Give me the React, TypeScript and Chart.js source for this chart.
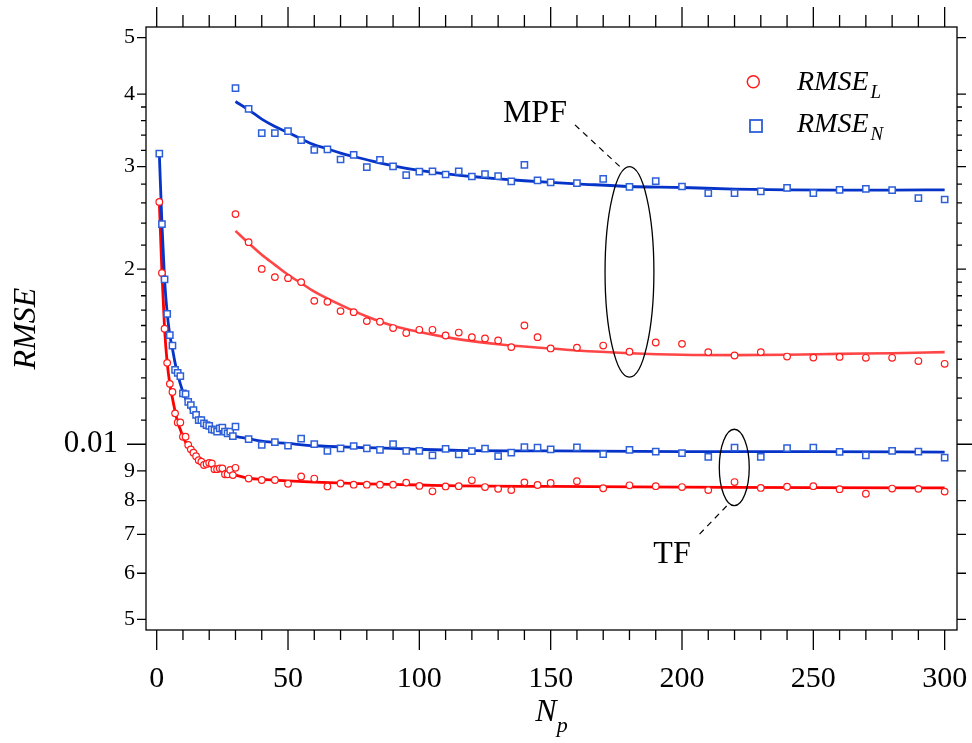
import { useEffect, useRef } from 'react';
import { Chart, registerables } from 'chart.js';
Chart.register(...registerables);

const FONT = '"Liberation Serif", "Times New Roman", serif';

// ---------- data ----------
const tfX = [1, 2, 3, 4, 5, 6, 7, 8, 9, 10, 11, 12, 13, 14, 15, 16, 17, 18, 19, 20, 21, 22, 23, 24, 25, 26, 27, 28, 29, 30,
  35, 40, 45, 50, 55, 60, 65, 70, 75, 80, 85, 90, 95, 100, 105, 110, 115, 120, 125, 130, 135, 140, 145, 150,
  160, 170, 180, 190, 200, 210, 220, 230, 240, 250, 260, 270, 280, 290, 300];

const tfRmseN = [0.0316, 0.0239, 0.0192, 0.01675, 0.0154, 0.01477, 0.01342, 0.01326, 0.0131, 0.01223, 0.0122, 0.01183, 0.01168, 0.01145, 0.01123, 0.011, 0.011, 0.01086, 0.01079, 0.01075, 0.01061, 0.01058, 0.01051, 0.01065, 0.01068, 0.01051, 0.01044, 0.01051, 0.01033, 0.01072,
  0.0102, 0.00997, 0.01008, 0.00994, 0.01022, 0.01, 0.00974, 0.00984, 0.00993, 0.00984, 0.00978, 0.01, 0.00974, 0.00974, 0.00957, 0.00982, 0.00961, 0.00973, 0.00983, 0.00954, 0.00967, 0.00989, 0.00987, 0.0098,
  0.00988, 0.00962, 0.00978, 0.00971, 0.00965, 0.00951, 0.00987, 0.00951, 0.00985, 0.00987, 0.0097, 0.00957, 0.00974, 0.00971, 0.00948];

const tfRmseL = [0.0261, 0.0197, 0.0158, 0.0138, 0.0127, 0.0123, 0.0113, 0.0109, 0.0109, 0.0103, 0.0103, 0.00997, 0.0098, 0.00967, 0.00954, 0.00939, 0.00933, 0.00921, 0.00925, 0.00929, 0.00927, 0.00906, 0.00906, 0.00909, 0.00909, 0.00888, 0.00888, 0.00903, 0.00885, 0.00911,
  0.00873, 0.00868, 0.00868, 0.00855, 0.0088, 0.00873, 0.00846, 0.00856, 0.00852, 0.00852, 0.00852, 0.00852, 0.00859, 0.00848, 0.0083, 0.00846, 0.00847, 0.00867, 0.00844, 0.00838, 0.00834, 0.0086, 0.00851, 0.00858,
  0.00864, 0.0084, 0.0085, 0.00847, 0.00844, 0.00834, 0.00861, 0.00841, 0.00845, 0.00847, 0.00837, 0.00822, 0.00839, 0.00838, 0.00829];

const mpfX = [30, 35, 40, 45, 50, 55, 60, 65, 70, 75, 80, 85, 90, 95, 100, 105, 110, 115, 120, 125, 130, 135, 140, 145, 150,
  160, 170, 180, 190, 200, 210, 220, 230, 240, 250, 260, 270, 280, 290, 300];

const mpfRmseN = [0.04095, 0.03773, 0.03427, 0.03427, 0.03454, 0.03334, 0.03208, 0.03212, 0.03087, 0.03145, 0.02996, 0.03084, 0.03003, 0.02902, 0.02941, 0.02944, 0.02909, 0.02944, 0.02886, 0.02914, 0.02891, 0.0283, 0.03023, 0.02841, 0.02819,
  0.02812, 0.0286, 0.02771, 0.02834, 0.02774, 0.02703, 0.02703, 0.0272, 0.0276, 0.02703, 0.02738, 0.02749, 0.02735, 0.0265, 0.02635];

const mpfRmseL = [0.02487, 0.02225, 0.02002, 0.01938, 0.0193, 0.019, 0.01764, 0.01757, 0.01694, 0.01687, 0.01628, 0.01624, 0.01584, 0.01553, 0.01573, 0.01573, 0.01538, 0.01556, 0.01528, 0.0152, 0.01508, 0.01469, 0.016, 0.01528, 0.01461,
  0.01466, 0.01478, 0.01442, 0.01496, 0.01488, 0.0144, 0.01421, 0.0144, 0.01415, 0.01409, 0.01413, 0.01408, 0.01408, 0.0139, 0.01375];

// fitted curves
const tfFitX = [1, 2, 3, 4, 5, 6, 7, 8, 9, 10, 12, 14, 16, 18, 20, 22, 25, 30, 35, 40, 50, 60, 80, 100, 115, 150, 200, 250, 300];
const tfFitN = [0.0316, 0.0239, 0.0192, 0.0168, 0.0154, 0.0146, 0.0138, 0.0132, 0.0127, 0.0123, 0.0117, 0.0113, 0.011, 0.01082, 0.01066, 0.01055, 0.01046, 0.01032, 0.01022, 0.01012, 0.01003, 0.00994, 0.00987, 0.0098, 0.00976, 0.00974, 0.00971, 0.00971, 0.00969];
const tfFitL = [0.0261, 0.0197, 0.0158, 0.0138, 0.0127, 0.012, 0.0114, 0.0109, 0.0106, 0.0103, 0.0099, 0.00965, 0.00945, 0.0093, 0.0092, 0.0091, 0.00898, 0.00885, 0.00874, 0.0087, 0.00865, 0.00861, 0.00855, 0.00851, 0.00848, 0.00846, 0.00844, 0.00842, 0.00841];

const mpfFitNX = [30, 35, 40, 45, 50, 55, 60, 65, 70, 75, 80, 90, 100, 110, 120, 130, 140, 150, 160, 180, 200, 220, 240, 260, 280, 300];
const mpfFitN = [0.03884, 0.03758, 0.03622, 0.03518, 0.03435, 0.0335, 0.03272, 0.0322, 0.03167, 0.03124, 0.03084, 0.03011, 0.02956, 0.02917, 0.02886, 0.0286, 0.02838, 0.02819, 0.02804, 0.02774, 0.02763, 0.02746, 0.02738, 0.02735, 0.02735, 0.02738];
const mpfFitLX = [30, 35, 40, 45, 50, 55, 60, 70, 80, 90, 100, 110, 120, 130, 140, 150, 160, 180, 200, 220, 240, 260, 280, 300];
const mpfFitL = [0.02327, 0.02217, 0.02117, 0.02034, 0.01955, 0.01892, 0.0183, 0.01736, 0.01658, 0.01598, 0.01559, 0.01528, 0.01504, 0.01486, 0.01472, 0.01461, 0.01449, 0.01434, 0.01425, 0.01423, 0.01425, 0.0143, 0.01434, 0.0144];

// ticks
const xTickLabels = [0, 50, 100, 150, 200, 250, 300];
const ySmallTicks = [0.005, 0.006, 0.007, 0.008, 0.009, 0.02, 0.03, 0.04, 0.05];
const yBigTicks = [0.01];
const yBigTickLabels = ['0.01'];
const yMinorTicks = [0.011, 0.012, 0.013, 0.014, 0.015, 0.016, 0.017, 0.018, 0.019, 0.022, 0.024, 0.026, 0.028, 0.032, 0.034, 0.036, 0.038];

const X_MIN = -4.07, X_MAX = 304.7;
const Y_MIN = 0.004793, Y_MAX = 0.05216;

const RED = '#ff1a1a';
const RED_LINE = '#ff0000';
const RED_LINE_MPF = '#ff4545';
const BLUE = '#2d5fd8';
const BLUE_LINE = '#0633c8';

const zip = (xs: number[], ys: number[]) => xs.map((x, i) => ({ x, y: ys[i] }));

const noPad = (s: any) => { s.paddingTop = 0; s.paddingBottom = 0; s.paddingLeft = 0; s.paddingRight = 0; };

const framePlugin = {
  id: 'frame',
  afterDraw(chart: any) {
    const { ctx, chartArea: ca, scales } = chart;
    const xs = scales.x, ys = scales.y;
    ctx.save();
    ctx.strokeStyle = '#000';
    ctx.lineWidth = 1.3;
    ctx.strokeRect(ca.left, ca.top, ca.right - ca.left, ca.bottom - ca.top);
    ctx.beginPath();
    for (let v = 0; v <= 300; v += 10) {
      const px = xs.getPixelForValue(v);
      const major = v % 50 === 0;
      ctx.moveTo(px, ca.bottom); ctx.lineTo(px, ca.bottom + (major ? 20 : 10));
      ctx.moveTo(px, ca.top); ctx.lineTo(px, ca.top - (major ? 20 : 12));
    }
    const yt = (v: number, len: number) => {
      const py = ys.getPixelForValue(v);
      ctx.moveTo(ca.left, py); ctx.lineTo(ca.left - len, py);
      ctx.moveTo(ca.right, py); ctx.lineTo(ca.right + len, py);
    };
    ySmallTicks.forEach(v => yt(v, 9));
    yBigTicks.forEach(v => yt(v, 19));
    yMinorTicks.forEach(v => yt(v, 5));
    ctx.stroke();

    ctx.fillStyle = '#000';
    // large "0.01" tick label, placed through the y scale
    ctx.font = `31px ${FONT}`;
    ctx.textAlign = 'right';
    ctx.textBaseline = 'middle';
    yBigTicks.forEach((v, i) => ctx.fillText(yBigTickLabels[i], ca.left - 28, ys.getPixelForValue(v)));

    // axis titles
    ctx.font = `italic 32px ${FONT}`;
    ctx.save();
    ctx.translate(27, (ca.top + ca.bottom) / 2);
    ctx.rotate(-Math.PI / 2);
    ctx.textAlign = 'center';
    ctx.textBaseline = 'middle';
    ctx.fillText('RMSE', 0, 0);
    ctx.restore();

    ctx.textAlign = 'left';
    ctx.textBaseline = 'alphabetic';
    ctx.font = `italic 32px ${FONT}`;
    const wN = ctx.measureText('N').width;
    ctx.font = `italic 22px ${FONT}`;
    const wp = ctx.measureText('p').width;
    const cx = (ca.left + ca.right) / 2;
    const x0 = cx - (wN + wp) / 2;
    ctx.font = `italic 32px ${FONT}`;
    ctx.fillText('N', x0, 721);
    ctx.font = `italic 22px ${FONT}`;
    ctx.fillText('p', x0 + wN, 732);
    ctx.restore();
  },
};

// annotation positions in data coordinates
const mpfEllipse = { x0: 170.7, x1: 189.3, y0: 0.0300, y1: 0.01304 };
const tfEllipse = { x0: 214.2, x1: 225.6, y0: 0.01061, y1: 0.00784 };
const mpfLeader = { x0: 159.25, y0: 0.0354, x1: 176.4, y1: 0.0300 };
const tfLeader = { x0: 217.0, y0: 0.00783, x1: 205.8, y1: 0.00694 };
const mpfLabel = { x: 144.0, y: 0.03583, text: 'MPF' };
const tfLabel = { x: 196.2, y: 0.006248, text: 'TF' };

const annotPlugin = {
  id: 'annot',
  afterDatasetsDraw(chart: any) {
    const { ctx, chartArea: ca, scales } = chart;
    const px = (v: number) => scales.x.getPixelForValue(v);
    const py = (v: number) => scales.y.getPixelForValue(v);
    ctx.save();
    ctx.strokeStyle = '#000';
    ctx.lineWidth = 1.3;
    [mpfEllipse, tfEllipse].forEach(e => {
      const a = px(e.x0), b = px(e.x1), c = py(e.y0), d = py(e.y1);
      ctx.beginPath();
      ctx.ellipse((a + b) / 2, (c + d) / 2, Math.abs(b - a) / 2, Math.abs(d - c) / 2, 0, 0, Math.PI * 2);
      ctx.stroke();
    });
    ctx.setLineDash([6, 5]);
    ctx.lineWidth = 1.2;
    [mpfLeader, tfLeader].forEach(l => {
      ctx.beginPath();
      ctx.moveTo(px(l.x0), py(l.y0));
      ctx.lineTo(px(l.x1), py(l.y1));
      ctx.stroke();
    });
    ctx.setLineDash([]);
    ctx.fillStyle = '#000';
    ctx.font = `32px ${FONT}`;
    ctx.textAlign = 'center';
    ctx.textBaseline = 'alphabetic';
    [mpfLabel, tfLabel].forEach(t => ctx.fillText(t.text, px(t.x), py(t.y)));

    // legend
    const lx = ca.left, ly = ca.top;
    ctx.lineWidth = 1.5;
    ctx.strokeStyle = RED;
    ctx.fillStyle = '#fff';
    ctx.beginPath();
    ctx.arc(lx + 607.3, ly + 54.7, 6, 0, Math.PI * 2);
    ctx.fill(); ctx.stroke();
    ctx.strokeStyle = BLUE;
    ctx.lineWidth = 1.8;
    ctx.fillRect(lx + 604, ly + 93, 12, 12);
    ctx.strokeRect(lx + 604, ly + 93, 12, 12);
    ctx.fillStyle = '#000';
    ctx.textAlign = 'left';
    const item = (sub: string, baseY: number) => {
      ctx.font = `italic 28px ${FONT}`;
      ctx.fillText('RMSE', lx + 651, baseY);
      const w = ctx.measureText('RMSE').width;
      ctx.font = `italic 19px ${FONT}`;
      ctx.fillText(sub, lx + 651 + w + 2, baseY + 8);
    };
    item('L', ly + 63);
    item('N', ly + 104.7);
    ctx.restore();
  },
};

export default function App() {
  const ref = useRef<HTMLCanvasElement>(null);
  useEffect(() => {
    const chart = new Chart(ref.current as HTMLCanvasElement, {
      type: 'line',
      data: {
        datasets: [
          { label: 'TF RMSE_N', data: zip(tfX, tfRmseN), showLine: false, pointStyle: 'rect', pointRadius: 4.4, pointBorderWidth: 1.5, pointBorderColor: BLUE, pointBackgroundColor: '#fff', borderColor: BLUE, xAxisID: 'x', yAxisID: 'y', order: 0 } as any,
          { label: 'MPF RMSE_N', data: zip(mpfX, mpfRmseN), showLine: false, pointStyle: 'rect', pointRadius: 4.4, pointBorderWidth: 1.5, pointBorderColor: BLUE, pointBackgroundColor: '#fff', borderColor: BLUE, xAxisID: 'x', yAxisID: 'y', order: 0 },
          { label: 'TF RMSE_L', data: zip(tfX, tfRmseL), showLine: false, pointStyle: 'circle', pointRadius: 3.3, pointBorderWidth: 1.2, pointBorderColor: RED, pointBackgroundColor: '#fff', borderColor: RED, xAxisID: 'x', yAxisID: 'y', order: 0 },
          { label: 'MPF RMSE_L', data: zip(mpfX, mpfRmseL), showLine: false, pointStyle: 'circle', pointRadius: 3.3, pointBorderWidth: 1.2, pointBorderColor: RED, pointBackgroundColor: '#fff', borderColor: RED, xAxisID: 'x', yAxisID: 'y', order: 0 },
          { label: 'TF fit N', data: zip(tfFitX, tfFitN), pointRadius: 0, borderWidth: 2.8, borderColor: BLUE_LINE, cubicInterpolationMode: 'monotone', xAxisID: 'x', yAxisID: 'y', order: 1 },
          { label: 'TF fit L', data: zip(tfFitX, tfFitL), pointRadius: 0, borderWidth: 2.8, borderColor: RED_LINE, cubicInterpolationMode: 'monotone', xAxisID: 'x', yAxisID: 'y', order: 1 },
          { label: 'MPF fit N', data: zip(mpfFitNX, mpfFitN), pointRadius: 0, borderWidth: 2.8, borderColor: BLUE_LINE, cubicInterpolationMode: 'monotone', xAxisID: 'x', yAxisID: 'y', order: 1 },
          { label: 'MPF fit L', data: zip(mpfFitLX, mpfFitL), pointRadius: 0, borderWidth: 2.6, borderColor: RED_LINE_MPF, cubicInterpolationMode: 'monotone', xAxisID: 'x', yAxisID: 'y', order: 1 },
        ],
      },
      options: {
        animation: false,
        responsive: false,
        events: [],
        layout: { padding: 0 },
        plugins: { legend: { display: false }, tooltip: { enabled: false } },
        scales: {
          x: {
            type: 'linear', position: 'bottom', min: X_MIN, max: X_MAX,
            afterFit: (s: any) => { s.height = 113; noPad(s); },
            afterBuildTicks: (s: any) => { s.ticks = xTickLabels.map(v => ({ value: v })); },
            grid: { display: false, drawTicks: false }, border: { display: false },
            ticks: { font: { family: FONT, size: 30 }, color: '#000', padding: 31, maxRotation: 0, autoSkip: false },
          },
          xTop: {
            type: 'linear', position: 'top', min: X_MIN, max: X_MAX,
            afterFit: (s: any) => { s.height = 27; noPad(s); },
            grid: { display: false, drawTicks: false }, border: { display: false }, ticks: { display: false },
          },
          y: {
            type: 'logarithmic', position: 'left', min: Y_MIN, max: Y_MAX,
            afterFit: (s: any) => { s.width = 146; noPad(s); },
            afterBuildTicks: (s: any) => { s.ticks = ySmallTicks.map(v => ({ value: v })); },
            grid: { display: false, drawTicks: false }, border: { display: false },
            ticks: {
              font: { family: FONT, size: 22 }, color: '#000', padding: 11, autoSkip: false,
              callback: (v: any) => String(Math.round(Number(v) * (Number(v) < 0.01 ? 1000 : 100))),
            },
          },
          yRight: {
            type: 'logarithmic', position: 'right', min: Y_MIN, max: Y_MAX,
            afterFit: (s: any) => { s.width = 15; noPad(s); },
            grid: { display: false, drawTicks: false }, border: { display: false }, ticks: { display: false },
          },
        },
      } as any,
      plugins: [framePlugin, annotPlugin],
    });
    return () => chart.destroy();
  }, []);
  return (
    <div style={{ position: 'fixed', left: 0, top: 0, width: 972, height: 743, background: '#fff' }}>
      <canvas ref={ref} width={972} height={743} style={{ width: 972, height: 743, display: 'block' }} />
    </div>
  );
}
